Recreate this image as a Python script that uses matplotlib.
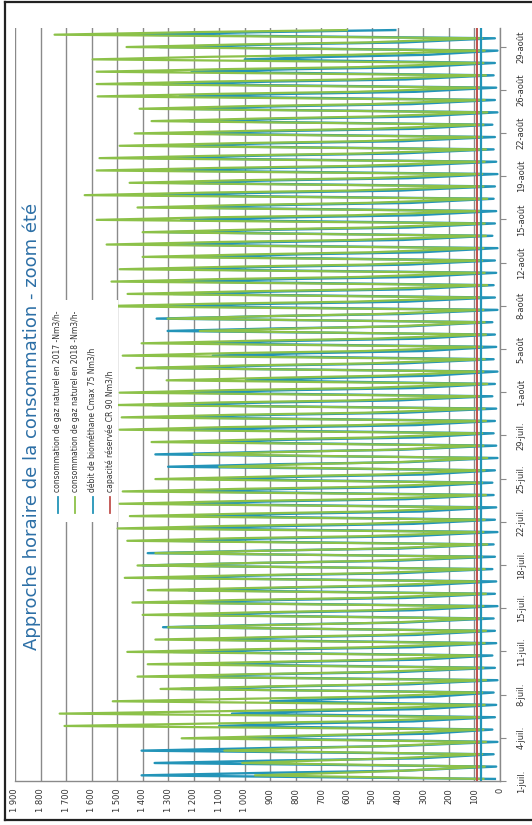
import matplotlib
matplotlib.use("Agg")
import matplotlib.pyplot as plt
from matplotlib.lines import Line2D
from matplotlib.patches import Rectangle
import numpy as np

W, H = 532, 825

title = "Approche horaire de la consommation - zoom été"
series_labels = [
    "consommation de gaz naturel en 2017 -Nm3/h-",
    "consommation de gaz naturel en 2018 -Nm3/h-",
    "débit de biométhane Cmax 75 Nm3/h",
    "capacité réservée CR 90 Nm3/h",
]
date_labels = ["1-juil.", "4-juil.", "8-juil.", "11-juil.", "15-juil.", "18-juil.",
               "22-juil.", "25-juil.", "29-juil.", "1-août", "5-août", "8-août",
               "12-août", "15-août", "19-août", "22-août", "26-août", "29-août"]
value_ticks = list(range(0, 2000, 100))

# Daily profile of each year: night minimum, late-morning peak,
# afternoon level, evening level (Nm3/h)
c2017_min = [20, 15, 25, 10, 30, 20, 15, 25, 10, 20,
             30, 15, 20, 25, 10, 20, 15, 30, 20, 25,
             10, 20, 15, 25, 30, 20, 10, 15, 25, 20,
             15, 30, 20, 10, 25, 15, 20, 30, 10, 20,
             25, 15, 20, 10, 30, 20, 15, 25, 20, 10,
             15, 25, 20, 30, 10, 20, 15, 25, 20, 10,
             20]
c2017_peak = [1404, 1353, 1404, 1000, 1100, 1050, 900, 1250, 1300, 1150,
              1280, 1200, 1320, 1250, 1300, 1220, 1350, 1400, 1380, 1300,
              1260, 1200, 1300, 1250, 1150, 1300, 1350, 1200, 1235, 1322,
              1361, 1250, 992, 1345, 1125, 1200, 1302, 1345, 1333, 1280,
              1250, 1300, 1200, 1330, 1300, 1250, 1280, 1365, 1294, 1341,
              1380, 1322, 1250, 1216, 1282, 1255, 1322, 1208, 1000, 1333,
              1420]
c2017_aft = [900, 860, 920, 700, 760, 720, 620, 820, 860, 760,
             840, 780, 880, 820, 860, 800, 900, 940, 920, 860,
             820, 780, 860, 820, 740, 860, 900, 780, 800, 880,
             900, 820, 640, 880, 740, 780, 860, 880, 880, 840,
             820, 860, 780, 880, 860, 820, 840, 900, 860, 880,
             920, 880, 820, 800, 840, 820, 880, 800, 660, 880,
             940]
c2017_eve = [380, 320, 400, 280, 340, 300, 260, 360, 390, 310,
             350, 330, 380, 340, 370, 320, 400, 420, 390, 360,
             340, 310, 370, 330, 290, 360, 390, 320, 330, 380,
             400, 340, 270, 380, 300, 320, 360, 380, 370, 350,
             330, 360, 310, 380, 360, 330, 350, 390, 360, 370,
             400, 380, 340, 320, 350, 330, 370, 320, 280, 380,
             410]

c2018_min = [65, 60, 70, 55, 65, 75, 60, 70, 55, 65,
             80, 60, 55, 70, 65, 55, 75, 60, 70, 50,
             65, 60, 75, 55, 70, 60, 50, 65, 70, 55,
             60, 75, 50, 65, 60, 70, 55, 60, 65, 75,
             50, 60, 70, 65, 55, 60, 75, 50, 65, 70,
             60, 55, 70, 65, 50, 60, 75, 55, 65, 60,
             70]
c2018_peak = [960, 1010, 1080, 1247, 1706, 1725, 1517, 1330, 1420, 1380,
              1460, 1350, 1300, 1400, 1440, 1380, 1470, 1420, 1350, 1460,
              1498, 1450, 1490, 1478, 1350, 1100, 1200, 1365, 1490, 1482,
              1498, 1490, 1306, 1424, 1478, 1404, 1176, 1302, 1588, 1459,
              1522, 1490, 1400, 1541, 1400, 1580, 1420, 1627, 1451, 1580,
              1569, 1490, 1431, 1365, 1412, 1576, 1580, 1580, 1596, 1463,
              1745]
c2018_aft = [620, 700, 760, 820, 1100, 1050, 980, 900, 940, 860,
             1000, 880, 820, 950, 1020, 900, 1000, 960, 880, 1040,
             1060, 980, 1050, 1020, 900, 760, 820, 940, 1080, 1040,
             1100, 1060, 880, 1000, 1040, 960, 780, 900, 1120, 1000,
             1080, 1040, 960, 1100, 980, 1120, 1000, 1150, 1020, 1100,
             1080, 1040, 980, 940, 1000, 1100, 1120, 1080, 1140, 1020,
             1200]
c2018_eve = [380, 420, 440, 460, 560, 540, 500, 470, 490, 450,
             520, 460, 430, 490, 520, 470, 510, 500, 460, 530,
             540, 500, 530, 520, 470, 400, 430, 490, 550, 530,
             560, 540, 460, 510, 530, 500, 410, 470, 570, 510,
             550, 530, 500, 560, 510, 570, 520, 580, 520, 560,
             550, 530, 500, 490, 510, 560, 570, 550, 580, 520,
             600]

biomethane_cmax = 75
cr_reserved = 90

n_days = len(c2017_peak)
profile_hours = [4, 11, 16, 20]

def daily_series(*levels):
    t = np.array([[d + h / 24.0 for h in profile_hours] for d in range(n_days)]).ravel()
    v = np.column_stack(levels).ravel()
    return t, v

teal = "#2394b8"
green = "#8cc149"
red = "#c0504d"
grid_c = "#8a8a8a"

fig = plt.figure(figsize=(W / 100, H / 100), dpi=100)
fig.patch.set_facecolor("white")

ax_l, ax_r, ax_t, ax_b = 15, 500, 28, 781
ax = fig.add_axes([ax_l / W, 1 - ax_b / H, (ax_r - ax_l) / W, (ax_b - ax_t) / H])

t17, v17 = daily_series(c2017_min, c2017_peak, c2017_aft, c2017_eve)
t18, v18 = daily_series(c2018_min, c2018_peak, c2018_aft, c2018_eve)
ax.plot(v17, t17, color=teal, lw=1.7, zorder=2)
ax.plot(v18, t18, color=green, lw=1.6, zorder=2)
ax.axvline(biomethane_cmax, color=teal, lw=1.6, zorder=3)
ax.axvline(cr_reserved, color=red, lw=1.4, zorder=3)

ax.set_xlim(1900, 0)
ax.set_ylim(0, n_days)

ax.set_xticks(value_ticks)
ax.set_xticklabels([f"{v:,}".replace(",", " ") for v in value_ticks],
                   rotation=90, fontsize=6, color="#333333")
ax.tick_params(axis="x", length=0, pad=5)
ax.grid(axis="x", color=grid_c, lw=1.0)
ax.set_axisbelow(True)

ax.yaxis.tick_right()
ax.set_yticks(np.arange(len(date_labels)) * 3.5)
ax.set_yticklabels(date_labels, rotation=90, fontsize=6, color="#333333",
                   va="center", ha="left")
ax.tick_params(axis="y", length=4, color=grid_c, pad=8)

for s in ("top", "left"):
    ax.spines[s].set_visible(False)
for s in ("bottom", "right"):
    ax.spines[s].set_color(grid_c)
    ax.spines[s].set_linewidth(1.0)

fig.text(32 / W, 1 - 426 / H, title, rotation=90, ha="center", va="center",
         fontsize=13, color="#2c6fa6")

# legend block
fig.add_artist(Rectangle((46 / W, 1 - 522 / H), (118 - 46) / W, (522 - 300) / H,
                         transform=fig.transFigure, facecolor="white",
                         edgecolor="none", zorder=3))
legend_colors = [teal, green, teal, red]
legend_x = [58, 75, 93, 110]
for x, lab, col in zip(legend_x, series_labels, legend_colors):
    fig.add_artist(Line2D([x / W, x / W], [1 - 513 / H, 1 - 497 / H],
                          transform=fig.transFigure, color=col, lw=1.3, zorder=4))
    fig.text(x / W, 1 - 492 / H, lab, rotation=90, ha="center", va="bottom",
             fontsize=5.5, color="#333333", zorder=4)

# page frame
frame_kw = dict(transform=fig.transFigure, color="#222222", lw=1.6, zorder=5)
fig.add_artist(Line2D([5 / W, 5 / W], [1 - 820 / H, 1 - 2 / H], **frame_kw))
fig.add_artist(Line2D([5 / W, 1], [1 - 2 / H, 1 - 2 / H], **frame_kw))
fig.add_artist(Line2D([5 / W, 1], [1 - 820 / H, 1 - 820 / H], **frame_kw))

fig.savefig("out.png", dpi=100)
